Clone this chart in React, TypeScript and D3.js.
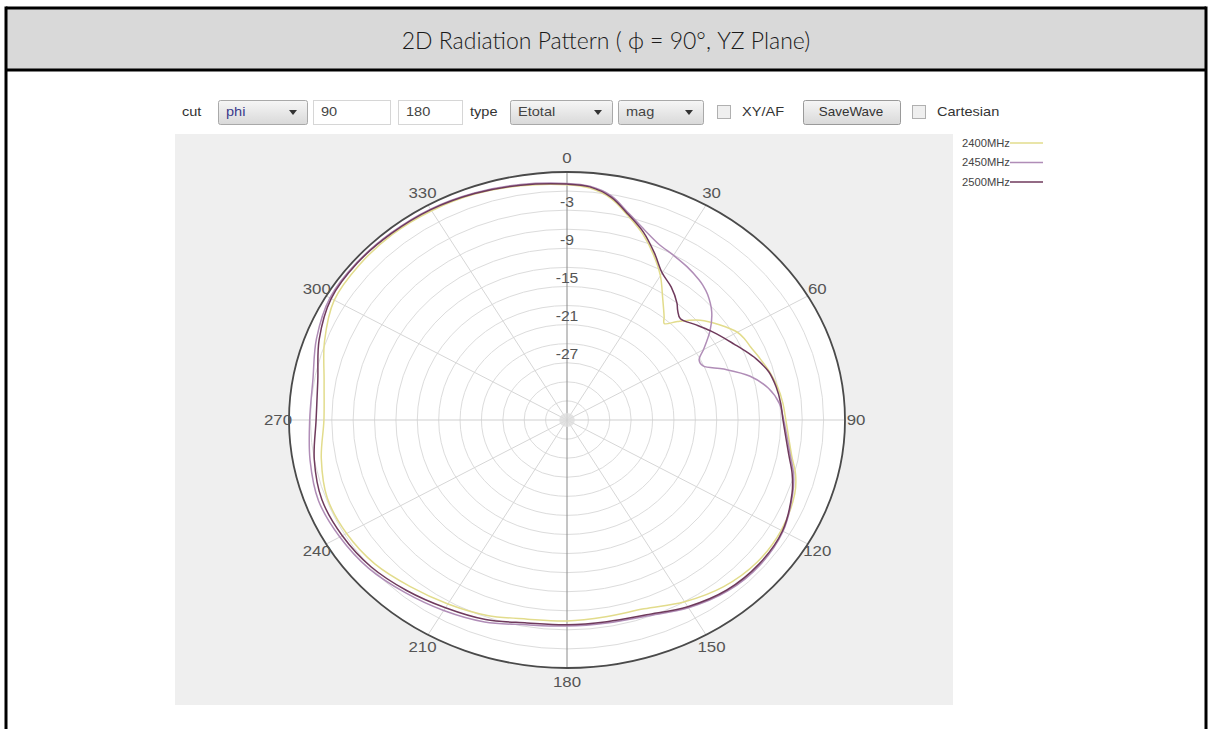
import React from "react";
import * as d3 from "d3";

// ---------- data ----------
const angles = [0, 5, 10, 15, 20, 25, 30, 35, 40, 42, 45, 50, 55, 60, 63, 66, 70, 75, 80, 85, 90, 100, 105, 110, 120, 130, 140, 150, 160, 170, 180, 190, 200, 210, 220, 230, 240, 250, 260, 270, 280, 290, 300, 310, 320, 330, 340, 350];

const s2400 = [-2.0, -2.4, -3.6, -5.8, -7.9, -10.3, -12.8, -15.6, -17.8, -18.6, -17.1, -14.6, -12.9, -11.4, -11.0, -10.8, -10.3, -9.6, -9.0, -8.6, -8.3, -7.0, -5.8, -5.0, -4.3, -4.2, -4.8, -6.0, -7.4, -7.6, -7.4, -7.2, -6.3, -5.6, -4.8, -3.8, -3.3, -3.2, -4.0, -4.9, -4.4, -2.8, -1.3, -1.0, -0.9, -1.0, -1.2, -1.6];

const s2450 = [-1.8, -2.1, -3.2, -5.4, -7.2, -8.5, -9.1, -9.6, -10.2, -10.5, -11.1, -12.5, -14.5, -16.9, -18.2, -18.1, -15.6, -12.4, -10.3, -9.1, -8.6, -7.2, -6.1, -5.3, -4.0, -3.6, -3.9, -4.9, -6.2, -6.6, -6.6, -6.3, -5.2, -4.4, -3.6, -2.7, -2.2, -1.9, -2.4, -2.9, -2.8, -1.6, -0.6, -0.5, -0.6, -0.7, -1.0, -1.4];

const s2500 = [-1.9, -2.2, -3.4, -5.6, -7.6, -10.0, -12.3, -13.5, -15.0, -15.8, -16.5, -15.6, -14.5, -13.4, -12.7, -11.9, -10.8, -9.7, -9.2, -8.9, -8.7, -7.4, -6.3, -5.4, -4.1, -3.8, -4.1, -5.1, -6.4, -6.8, -6.8, -6.6, -5.6, -4.9, -4.0, -3.1, -2.6, -2.4, -3.0, -3.8, -3.5, -2.0, -0.8, -0.6, -0.7, -0.8, -1.1, -1.5];

const seriesNames = ["2400MHz", "2450MHz", "2500MHz"];
const seriesColors = ["#e2dc8c", "#b08db7", "#6f3a5c"];
const seriesValues = [s2400, s2450, s2500];

const ringDb = [-36, -33, -30, -27, -24, -21, -18, -15, -12, -9, -6, -3];
const ringLabels = [-3, -9, -15, -21, -27];
const angleTicks = [0, 30, 60, 90, 120, 150, 180, 210, 240, 270, 300, 330];

const titleText = "2D Radiation Pattern ( \u03D5 = 90\u00B0, YZ Plane)";

// ---------- layout ----------
const W = 1212;
const H = 729;
const cx = 567;
const cy = 420;
const R = 248;
const SX = 278 / 248;
const STRETCH = 1.12;
const FONT = "'Liberation Sans', Arial, sans-serif";

const rScale = d3.scaleLinear().domain([-39, 0]).range([0, R]);

function T({ x, y, children, size = 13, anchor = "start", fill = "#333" }: any) {
  return (
    <g transform={`translate(${x},${y}) scale(${STRETCH},1)`}>
      <text x={0} y={0} fontSize={size} fontFamily={FONT} fill={fill} textAnchor={anchor} dominantBaseline="central">
        {children}
      </text>
    </g>
  );
}

function Dropdown({ x, w, label, color = "#444" }: any) {
  const y = 100;
  const h = 24;
  return (
    <g>
      <rect x={x + 0.5} y={y + 0.5} width={w} height={h} rx={2} fill="url(#btnGrad)" stroke="#a9a9a9" />
      <T x={x + 8} y={y + h / 2} size={13} fill={color}>{label}</T>
      <path d={`M${x + w - 18},${y + 10} l8,0 l-4,5 z`} fill="#333" />
    </g>
  );
}

function TextBox({ x, w, label }: any) {
  return (
    <g>
      <rect x={x + 0.5} y={100.5} width={w} height={24} fill="#ffffff" stroke="#d6d6d6" />
      <T x={x + 8} y={112} size={13} fill="#444">{label}</T>
    </g>
  );
}

function Check({ x }: any) {
  return <rect x={x + 0.5} y={105.5} width={13} height={13} fill="#efefef" stroke="#b0b0b0" />;
}

export default function App() {
  const line = d3
    .lineRadial<number>()
    .angle((_, i) => (angles[i] * Math.PI) / 180)
    .radius((d) => rScale(d))
    .curve(d3.curveCatmullRomClosed.alpha(0.5));

  const gray = "#efefef";

  return (
    <svg width={W} height={H} style={{ position: "absolute", left: 0, top: 0, background: "#fff" }}>
      <defs>
        <linearGradient id="btnGrad" x1="0" y1="0" x2="0" y2="1">
          <stop offset="0" stopColor="#f6f6f6" />
          <stop offset="1" stopColor="#d9d9d9" />
        </linearGradient>
      </defs>

      {/* frame + header */}
      <rect x={6} y={8} width={1200} height={62} fill="#d9d9d9" />
      <line x1={6} y1={8} x2={1206} y2={8} stroke="#000" strokeWidth={3} />
      <line x1={6} y1={70} x2={1206} y2={70} stroke="#000" strokeWidth={3} />
      <line x1={6} y1={6.5} x2={6} y2={H} stroke="#000" strokeWidth={3} />
      <line x1={1206} y1={6.5} x2={1206} y2={H} stroke="#000" strokeWidth={3} />
      <text x={606} y={40} textAnchor="middle" dominantBaseline="central" fontFamily="Lato, 'Open Sans', sans-serif" fontWeight={300} fontSize={23} fill="#1a1a1a">
        {titleText}
      </text>

      {/* toolbar */}
      <T x={182} y={112}>cut</T>
      <Dropdown x={218} w={89} label="phi" color="#3a3a8c" />
      <TextBox x={313} w={77} label="90" />
      <TextBox x={398} w={64} label="180" />
      <T x={470} y={112}>type</T>
      <Dropdown x={510} w={102} label="Etotal" />
      <Dropdown x={618} w={85} label="mag" />
      <Check x={717} />
      <T x={742} y={112}>XY/AF</T>
      <rect x={803.5} y={100.5} width={97} height={24} rx={2} fill="url(#btnGrad)" stroke="#9a9a9a" />
      <T x={851} y={112} anchor="middle" size={12}>SaveWave</T>
      <Check x={912} />
      <T x={937} y={112}>Cartesian</T>

      {/* plot background */}
      <rect x={175} y={134} width={778} height={571} fill={gray} />

      {/* legend */}
      {seriesNames.map((n, i) => (
        <g key={n}>
          <T x={962} y={143 + i * 19.5} size={10} fill="#444">{n}</T>
          <line x1={1010} x2={1043} y1={143 + i * 19.5} y2={143 + i * 19.5} stroke={seriesColors[i]} strokeWidth={1.3} />
        </g>
      ))}

      {/* polar */}
      <g transform={`translate(${cx},${cy}) scale(${SX},1)`}>
        <circle r={R} fill="#ffffff" />
        {ringDb.map((v) => (
          <circle key={v} r={rScale(v)} fill="none" stroke="#dcdcdc" strokeWidth={1} vectorEffect="non-scaling-stroke" />
        ))}
        {angleTicks.map((a) => {
          const t = (a * Math.PI) / 180;
          const isV = a === 0 || a === 180;
          if (isV) return null;
          return (
            <line key={a} x1={0} y1={0} x2={R * Math.sin(t)} y2={-R * Math.cos(t)} stroke={a === 90 || a === 270 ? "#cfcfcf" : "#d6d6d6"} strokeWidth={1} vectorEffect="non-scaling-stroke" />
          );
        })}
        <line x1={0} y1={-R} x2={0} y2={R} stroke="#8a8a8a" strokeWidth={1} vectorEffect="non-scaling-stroke" />
        <circle r={7} fill="#dddddd" opacity={0.8} />
        <circle r={R} fill="none" stroke="#4a4a4a" strokeWidth={1.8} vectorEffect="non-scaling-stroke" />

        {seriesValues.map((vals, i) => (
          <path key={i} d={line(vals) || ""} fill="none" stroke={seriesColors[i]} strokeWidth={1.5} vectorEffect="non-scaling-stroke" />
        ))}

        {ringLabels.map((v) => (
          <text key={v} x={0} y={-rScale(v) + 11} textAnchor="middle" dominantBaseline="central" fontFamily={FONT} fontSize={14} fill="#555">
            {v}
          </text>
        ))}
        {angleTicks.map((a) => {
          const t = (a * Math.PI) / 180;
          return (
            <text key={a} x={(289 / SX) * Math.sin(t)} y={-262 * Math.cos(t)} textAnchor="middle" dominantBaseline="central" fontFamily={FONT} fontSize={15} fill="#555">
              {a}
            </text>
          );
        })}
      </g>
    </svg>
  );
}
